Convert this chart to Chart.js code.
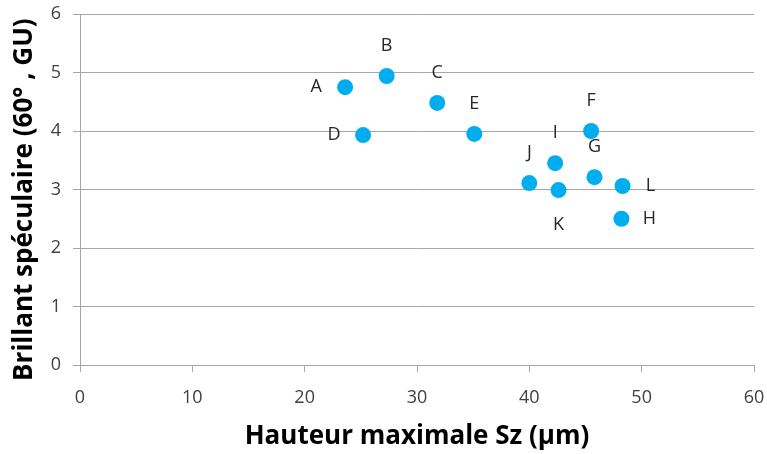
<!DOCTYPE html>
<html>
<head>
<meta charset="utf-8">
<script src="https://cdn.jsdelivr.net/npm/chart.js@4/dist/chart.umd.min.js"></script>
<style>
  html, body { margin: 0; padding: 0; background: #fff; }
  #wrap { width: 767px; height: 454px; }
</style>
</head>
<body>
<div id="wrap"><canvas id="chart" width="767" height="454"></canvas></div>
<script>
// sample names, roughness Sz (µm) and specular gloss (GU)
const names = ['A', 'B', 'C', 'D', 'E', 'F', 'G', 'H', 'I', 'J', 'K', 'L'];
const sz = [23.6, 27.3, 31.8, 25.2, 35.1, 45.5, 45.8, 48.2, 42.3, 40.0, 42.6, 48.3];
const gloss = [4.75, 4.94, 4.48, 3.93, 3.95, 4.00, 3.21, 2.50, 3.45, 3.11, 2.99, 3.06];
// where each name sits around its dot
const labelSide = ['left', 'above', 'above', 'left', 'above', 'above', 'above', 'right', 'above', 'above', 'below', 'right'];

const xTitle = 'Hauteur maximale Sz (µm)';
// trailing nbsp pushes the rotated title a bit lower, like the original
const yTitle = 'Brillant spéculaire (60° , GU)\u00a0\u00a0\u00a0';

const FONT = '"Open Sans", "DejaVu Sans", sans-serif';
const gridColor = '#a6a6a6';

const sideOffset = {
    left: [-29, 0], right: [28, 0], above: [0, -30], below: [0, 35]
};

// write the letter next to each dot
const pointNames = {
    id: 'pointNames',
    afterDatasetsDraw(chart) {
        const ctx = chart.ctx;
        const meta = chart.getDatasetMeta(0);
        ctx.save();
        ctx.font = '18px ' + FONT;
        ctx.fillStyle = '#262626';
        ctx.textAlign = 'center';
        ctx.textBaseline = 'middle';
        meta.data.forEach((pt, i) => {
            const off = sideOffset[labelSide[i]];
            ctx.fillText(names[i], pt.x + off[0], pt.y + off[1]);
        });
        ctx.restore();
    }
};

new Chart(document.getElementById('chart'), {
    type: 'scatter',
    data: {
        datasets: [{
            data: sz.map((x, i) => ({ x: x, y: gloss[i] })),
            backgroundColor: '#00aeef',
            borderWidth: 0,
            pointRadius: 8,
            pointHoverRadius: 8
        }]
    },
    options: {
        responsive: false,
        animation: false,
        layout: { padding: { top: 14, right: 13, left: 0, bottom: 0 } },
        plugins: { legend: { display: false }, tooltip: { enabled: false } },
        scales: {
            x: {
                min: 0, max: 60,
                afterFit: (s) => { s.height = 89; s.paddingLeft = 0; s.paddingRight = 0; },
                ticks: { stepSize: 10, color: '#404040', padding: 15, font: { family: FONT, size: 18 } },
                grid: { drawOnChartArea: false, tickLength: 7, color: gridColor },
                border: { color: gridColor },
                title: {
                    display: true, text: xTitle, color: '#000',
                    padding: { top: 0, bottom: 2 },
                    font: { family: FONT, size: 26, weight: 'bold' }
                }
            },
            y: {
                min: 0, max: 6,
                afterFit: (s) => { s.width = 80; s.paddingTop = 0; s.paddingBottom = 0; },
                ticks: { stepSize: 1, color: '#404040', padding: 12, font: { family: FONT, size: 18 } },
                grid: { tickLength: 7, color: gridColor },
                border: { color: gridColor },
                title: {
                    display: true, text: yTitle, color: '#000',
                    padding: { top: 9, bottom: 0 },
                    font: { family: FONT, size: 26, weight: 'bold' }
                }
            }
        }
    },
    plugins: [pointNames]
});
</script>
</body>
</html>
